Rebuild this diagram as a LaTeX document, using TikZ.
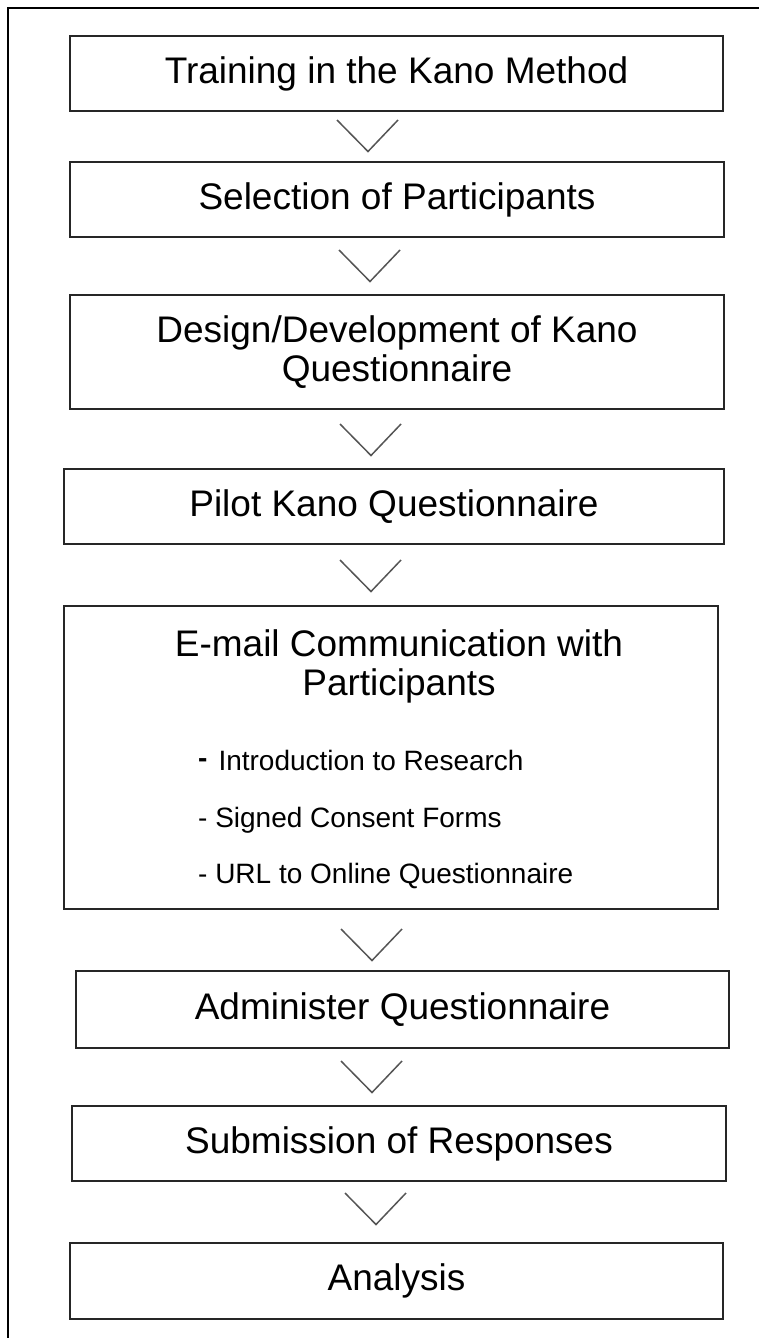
\documentclass[tikz,border=0pt]{standalone}
\usepackage{fontspec}
\setmainfont{Liberation Sans}
\definecolor{edge}{HTML}{262626}
\definecolor{chevgray}{HTML}{555555}
\newcommand{\stagefont}{\fontsize{37}{39}\selectfont}
\newcommand{\itemfont}{\fontsize{28}{30}\selectfont}
\begin{document}
\begin{tikzpicture}[x=1pt,y=-1pt,
  stage/.style={draw=edge, line width=2pt, rectangle, inner sep=0pt,
    align=center, font=\stagefont, text=black},
  label/.style={inner sep=0pt, text=black},
  chevron/.style={draw=chevgray, line width=1.5pt, line join=miter},
  frame/.style={draw=black, line width=1.8pt},
  pics/chev/.style={code={\draw[chevron] (-31,0) -- (0,31.5) -- (30,0);}}]

% page and outer frame (open on the right and bottom)
\fill[white] (0,0) rectangle (759,1338);
\useasboundingbox (0,0) rectangle (759,1338);
\begin{scope}
  \clip (0,0) rectangle (759,1338);
  \draw[frame] (8,1350) -- (8,8) -- (770,8);
\end{scope}

% process stages
\node[stage, minimum width=653pt, minimum height=75pt] (train) at (396.5,73.5)
  {Training in the Kano Method};
\node[stage, minimum width=654pt, minimum height=75pt] (select) at (397,199.5)
  {Selection of Participants};
\node[stage, minimum width=654pt, minimum height=114pt] (design) at (397,352)
  {Design/Development of Kano\\Questionnaire};
\node[stage, minimum width=660pt, minimum height=75pt] (pilot) at (394,506.5)
  {Pilot Kano Questionnaire};
\node[stage, minimum width=654pt, minimum height=303pt] (email) at (391,757.5) {};
\node[stage, minimum width=653pt, minimum height=77pt] (admin) at (402.5,1009.5)
  {Administer Questionnaire};
\node[stage, minimum width=654pt, minimum height=75pt] (submit) at (399,1143.5)
  {Submission of Responses};
\node[stage, minimum width=653pt, minimum height=76pt] (analysis) at (396.5,1281)
  {Analysis};

% contents of the e-mail stage
\node[label, font=\stagefont, anchor=base] (emailA) at (399,656)
  {E-mail Communication with};
\node[label, font=\stagefont, anchor=base] (emailB) at (399,695)
  {Participants};
\node[label, font=\itemfont, anchor=base west] (itemA) at (198,770)
  {\raisebox{3pt}{\bfseries -}\hspace{11pt}Introduction to Research};
\node[label, font=\itemfont, anchor=base west] (itemB) at (198,827)
  {- Signed Consent Forms};
\node[label, font=\itemfont, anchor=base west] (itemC) at (198,883)
  {- URL to Online Questionnaire};

% chevrons between the stages
\pic at (368,120) {chev};
\pic at (370,250) {chev};
\pic at (371,424) {chev};
\pic at (371,560) {chev};
\pic at (372,929) {chev};
\pic at (372,1061) {chev};
\pic at (376,1193) {chev};
\end{tikzpicture}
\end{document}
